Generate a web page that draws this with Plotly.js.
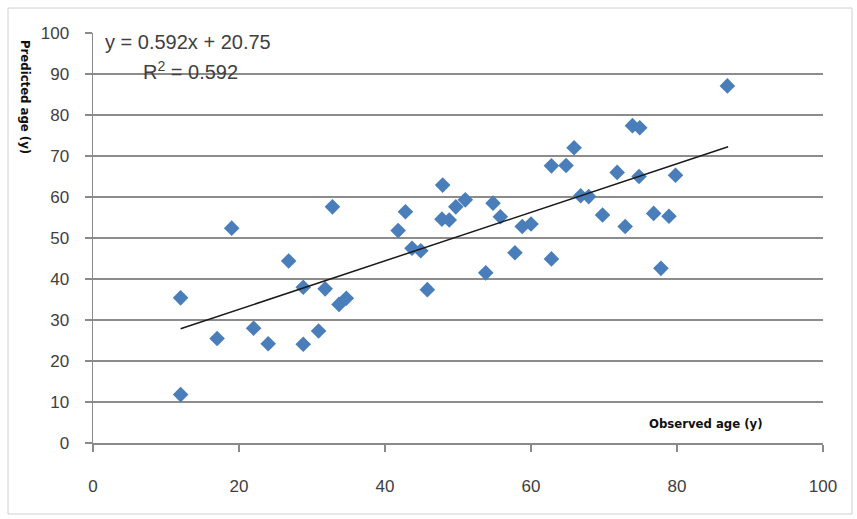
<!DOCTYPE html>
<html>
<head>
<meta charset="utf-8">
<script src="https://cdn.plot.ly/plotly-3.0.1.min.js"></script>
<style>html,body{margin:0;padding:0;background:#fff;}#chart{width:857px;height:519px;}</style>
</head>
<body>
<div id="chart"></div>
<script>
// Observed age (x) and predicted age (y)
var observed = [12,12,17,19,22,24,26.8,28.8,28.8,30.9,31.8,32.8,33.7,34.7,41.8,42.8,43.7,44.9,45.8,47.9,47.8,48.8,49.7,51,53.8,54.8,55.8,57.8,58.8,60,62.8,62.8,64.8,65.9,66.8,67.9,69.8,71.8,72.9,73.9,74.9,74.8,76.8,77.8,78.9,79.8,86.9];
var predicted = [35.4,11.8,25.5,52.4,28,24.2,44.4,38,24.1,27.3,37.6,57.6,33.8,35.3,51.8,56.4,47.5,46.9,37.4,62.9,54.6,54.4,57.6,59.3,41.5,58.5,55.2,46.4,52.8,53.4,67.6,44.9,67.7,72,60.3,60.1,55.6,66,52.8,77.4,76.9,65,56,42.6,55.3,65.3,87.1];
// Linear trend line y = slope*x + intercept, drawn over the observed range
var slope = 0.592, intercept = 20.75;
var trendX = [12, 87];
var trendY = trendX.map(function(x){ return slope * x + intercept; });
var xTicks = [0,20,40,60,80,100];
var yTicks = [0,10,20,30,40,50,60,70,80,90,100];

var tickFont = {family: 'Liberation Sans, Arial, sans-serif', size: 17, color: '#404040'};
var titleFont = {family: 'DejaVu Sans Condensed, Liberation Sans Narrow, sans-serif', size: 13, color: '#111', weight: 'bold'};

var data = [
  {x: observed, y: predicted, type: 'scatter', mode: 'markers',
   marker: {symbol: 'diamond', size: 12, color: '#4a7ebb'}, hoverinfo: 'x+y'},
  {x: trendX, y: trendY, type: 'scatter', mode: 'lines',
   line: {color: '#1a1a1a', width: 1.5}, hoverinfo: 'skip'}
];

var layout = {
  width: 857, height: 519,
  margin: {l: 93, r: 34, t: 33, b: 76},
  paper_bgcolor: '#fff', plot_bgcolor: '#fff',
  showlegend: false,
  xaxis: {range: [0,100], tickvals: xTicks, ticktext: xTicks.map(String),
          showgrid: false, zeroline: false, showline: true, linecolor: '#8a8a8a', linewidth: 1.5,
          ticks: 'outside', ticklen: 7, tickcolor: '#8a8a8a', tickwidth: 1.5,
          tickfont: tickFont, ticklabelstandoff: 20, fixedrange: true},
  yaxis: {range: [0,100], tickvals: yTicks, ticktext: yTicks.map(String),
          showgrid: true, gridcolor: '#8c8c8c', gridwidth: 1.5, zeroline: false,
          showline: true, linecolor: '#8a8a8a', linewidth: 1.5,
          ticks: 'outside', ticklen: 7, tickcolor: '#8a8a8a', tickwidth: 1.5,
          tickfont: tickFont, ticklabelstandoff: 12, fixedrange: true},
  shapes: [
    {type: 'rect', xref: 'paper', yref: 'paper', x0: -85/730, x1: 759/730, y0: -71/410, y1: 1 + 25/410,
     line: {color: '#d0d0d0', width: 1}}
  ],
  annotations: [
    {text: 'y = 0.592x + 20.75', xref: 'paper', yref: 'paper', x: (188-93)/730, y: (443-42)/410,
     showarrow: false, xanchor: 'center', yanchor: 'middle',
     font: {family: 'Liberation Sans, Arial, sans-serif', size: 20, color: '#404040'}},
    {text: 'R<sup>2</sup> = 0.592', xref: 'paper', yref: 'paper', x: (190-93)/730, y: (443-71)/410,
     showarrow: false, xanchor: 'center', yanchor: 'middle',
     font: {family: 'Liberation Sans, Arial, sans-serif', size: 20, color: '#404040'}},
    {text: 'Observed age (y)', xref: 'paper', yref: 'paper', x: (706-93)/730, y: (443-423)/410,
     showarrow: false, xanchor: 'center', yanchor: 'middle', font: titleFont},
    {text: 'Predicted age (y)', xref: 'paper', yref: 'paper', x: (26-93)/730, y: (443-97)/410,
     showarrow: false, xanchor: 'center', yanchor: 'middle', textangle: 90, font: titleFont}
  ]
};

Plotly.newPlot('chart', data, layout, {displayModeBar: false, staticPlot: true});
</script>
</body>
</html>
